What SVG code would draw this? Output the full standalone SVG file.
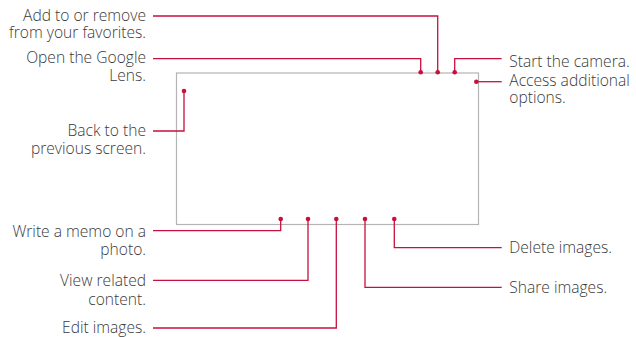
<svg xmlns="http://www.w3.org/2000/svg" width="636" height="337" viewBox="0 0 636 337">
<style>
text{font-family:"Open Sans","Noto Sans",sans-serif;font-size:15.6px;font-weight:300;fill:#3a3a3a;}
.l{text-anchor:end;}
.c{fill:none;stroke:#c8103f;stroke-width:1.3;}
.d{fill:#c8103f;}
.frame{fill:#fff;stroke:#b4b4b4;stroke-width:1.2;}
</style>
<rect width="636" height="337" fill="#fff"/>
<g id="screen"><rect class="frame" x="176.5" y="73" width="302" height="151.5"/></g>
<g id="connectors">
<polyline class="c" points="153,16 437.7,16 437.7,72"/>
<polyline class="c" points="153,58.7 420.7,58.7 420.7,72"/>
<polyline class="c" points="501.7,58.7 454.7,58.7 454.7,72"/>
<polyline class="c" points="501.7,81.7 476.3,81.7"/>
<polyline class="c" points="184,91 184,131 153,131"/>
<polyline class="c" points="280.7,219 280.7,230.7 153,230.7"/>
<polyline class="c" points="308,219 308,280.3 153,280.3"/>
<polyline class="c" points="336.3,219 336.3,328 153,328"/>
<polyline class="c" points="365,219 365,287.3 501.7,287.3"/>
<polyline class="c" points="394.3,219 394.3,247.7 501.7,247.7"/>
<circle class="d" cx="420.7" cy="72.3" r="2.3"/>
<circle class="d" cx="437.7" cy="72.3" r="2.3"/>
<circle class="d" cx="454.7" cy="72.3" r="2.3"/>
<circle class="d" cx="476.3" cy="81.7" r="2.3"/>
<circle class="d" cx="184" cy="91" r="2.3"/>
<circle class="d" cx="280.7" cy="219" r="2.3"/>
<circle class="d" cx="308" cy="219" r="2.3"/>
<circle class="d" cx="336.3" cy="219" r="2.3"/>
<circle class="d" cx="365" cy="219" r="2.3"/>
<circle class="d" cx="394.3" cy="219" r="2.3"/>
</g>
<g id="favorites"><text class="l" x="146" y="20.7">Add to or remove</text><text class="l" x="146" y="37.7">from your favorites.</text></g>
<g id="lens"><text class="l" x="146" y="63.3">Open the Google</text><text class="l" x="146" y="80.5">Lens.</text></g>
<g id="back"><text class="l" x="146" y="136">Back to the</text><text class="l" x="146" y="154">previous screen.</text></g>
<g id="memo"><text class="l" x="146" y="236.7">Write a memo on a</text><text class="l" x="146" y="255">photo.</text></g>
<g id="related"><text class="l" x="146" y="286.3">View related</text><text class="l" x="146" y="304.7">content.</text></g>
<g id="edit"><text class="l" x="146" y="332.8">Edit images.</text></g>
<g id="camera"><text x="509.3" y="66.7">Start the camera.</text></g>
<g id="options"><text x="509.3" y="85.7">Access additional</text><text x="509.3" y="102.7">options.</text></g>
<g id="delete"><text x="509.3" y="253.3">Delete images.</text></g>
<g id="share"><text x="509.3" y="293.3">Share images.</text></g>
</svg>
